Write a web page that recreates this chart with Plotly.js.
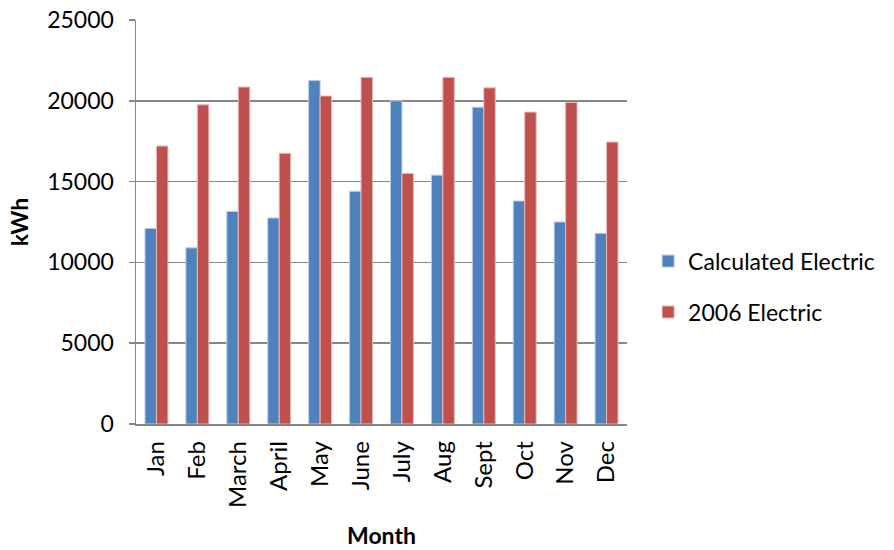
<!DOCTYPE html>
<html>
<head>
<meta charset="utf-8">
<script src="https://cdn.plot.ly/plotly-3.0.1.min.js"></script>
<style>html,body{margin:0;padding:0;background:#fff;}#chart{width:894px;height:550px;}</style>
</head>
<body>
<div id="chart"></div>
<script>
const months = ["Jan","Feb","March","April","May","June","July","Aug","Sept","Oct","Nov","Dec"];
const calculatedElectric = [12100, 10900, 13150, 12750, 21250, 14400, 20000, 15400, 19600, 13800, 12500, 11800];
const electric2006 = [17200, 19750, 20850, 16750, 20300, 21450, 15500, 21450, 20800, 19300, 19900, 17450];
const seriesNames = ["Calculated Electric", "2006 Electric"];

const font = "Lato, 'Open Sans', sans-serif";
const data = [
  {type:"bar", x:months, y:calculatedElectric, name:seriesNames[0], legendgroup:"a",
   marker:{color:"#4f81bd", line:{color:"#b9cde5", width:1}}},
  {type:"bar", x:months, y:electric2006, name:seriesNames[1], legendgroup:"b",
   marker:{color:"#c0504d", line:{color:"#e6b9b8", width:1}}}
];
const layout = {
  width:894, height:550,
  margin:{l:136, r:267, t:20, b:126},
  paper_bgcolor:"#fff", plot_bgcolor:"#fff",
  font:{family:font, size:23, color:"#000"},
  barmode:"group", bargap:0.44, bargroupgap:0,
  showlegend:true,
  legend:{x:1.043, y:0.34, xanchor:"left", yanchor:"middle", font:{size:23},
          traceorder:"grouped", tracegroupgap:18, itemwidth:30, borderwidth:0},
  xaxis:{
    type:"category", tickangle:-90, showgrid:false, zeroline:false,
    showline:true, linecolor:"#868686", linewidth:1.5, ticks:"",
    tickfont:{size:24}, automargin:false, ticklabelstandoff:6,
    title:{text:"<b>Month</b>", font:{size:23}, standoff:21}
  },
  yaxis:{
    range:[0,25000], dtick:5000, tickformat:"d", showgrid:true, gridcolor:"#868686", gridwidth:1.5,
    zeroline:false, showline:true, linecolor:"#868686", linewidth:1.5,
    ticks:"outside", ticklen:6, tickcolor:"#868686", tickwidth:1.5,
    tickfont:{size:23}, automargin:false, ticklabelstandoff:10,
    title:{text:"<b>kWh</b>", font:{size:23}, standoff:12}
  }
};
Plotly.newPlot("chart", data, layout, {displayModeBar:false, staticPlot:true});
</script>
</body>
</html>
